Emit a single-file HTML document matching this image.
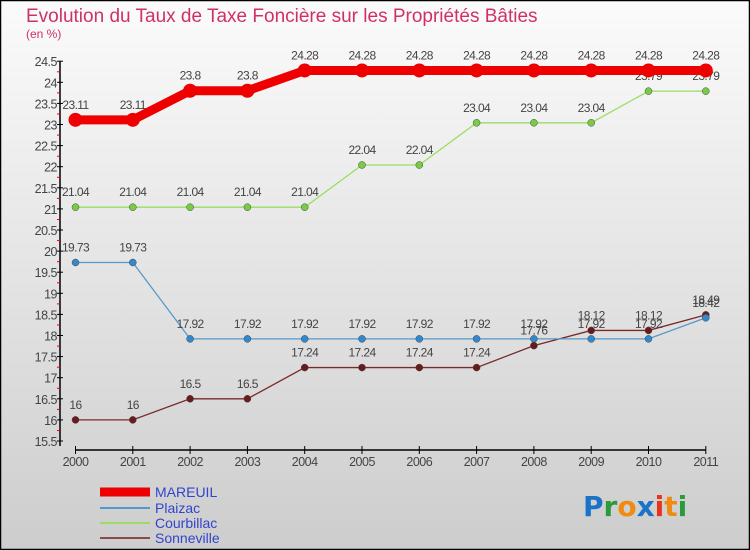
<!DOCTYPE html>
<html><head><meta charset="utf-8"><style>
body{margin:0}
#c{width:750px;height:550px;position:relative;overflow:hidden;font-family:"Liberation Sans",sans-serif}
</style></head><body>
<div id="c">
<svg width="750" height="550" xmlns="http://www.w3.org/2000/svg" id="svg">
<defs><linearGradient id="bg" x1="0" y1="0" x2="0" y2="1"><stop offset="0" stop-color="#fbfbfb"/><stop offset="1" stop-color="#cdcdcd"/></linearGradient></defs>
<rect x="0.5" y="0.5" width="749" height="549" fill="url(#bg)" stroke="#000" stroke-width="1.5"/>
<text x="26" y="22" font-size="19" fill="#d0306a">Evolution du Taux de Taxe Foncière sur les Propriétés Bâties</text>
<text x="26" y="38" font-size="12" fill="#d0306a">(en %)</text>
<g id="axes"></g><g id="series"></g><g id="legend"></g>
<text x="583" y="516" font-size="28" font-family="'DejaVu Sans',sans-serif" font-weight="bold"><tspan fill="#1a73c8">P</tspan><tspan fill="#2a9a3a">r</tspan><tspan fill="#f08a10">o</tspan><tspan fill="#1a73c8">x</tspan><tspan fill="#e8321a">i</tspan><tspan fill="#f08a10">t</tspan><tspan fill="#2a9a3a">i</tspan></text>
</svg>
</div>
<script>
const years=[2000,2001,2002,2003,2004,2005,2006,2007,2008,2009,2010,2011];
const mareuil=[23.11,23.11,23.8,23.8,24.28,24.28,24.28,24.28,24.28,24.28,24.28,24.28];
const plaizac=[19.73,19.73,17.92,17.92,17.92,17.92,17.92,17.92,17.92,17.92,17.92,18.42];
const courbillac=[21.04,21.04,21.04,21.04,21.04,22.04,22.04,23.04,23.04,23.04,23.79,23.79];
const sonneville=[16,16,16.5,16.5,17.24,17.24,17.24,17.24,17.76,18.12,18.12,18.49];
const yTicks=[15.5,16,16.5,17,17.5,18,18.5,19,19.5,20,20.5,21,21.5,22,22.5,23,23.5,24,24.5];
const NS="http://www.w3.org/2000/svg";
function X(i){return 75.5+i*57.3;}
function Y(v){return 441-(v-15.5)*42.2;}
function mk(t,a,p){const e=document.createElementNS(NS,t);for(const k in a)e.setAttribute(k,a[k]);if(p)p.appendChild(e);return e;}
const ax=document.getElementById('axes'),sg=document.getElementById('series'),lg=document.getElementById('legend');
let l=mk('line',{x1:60,y1:Y(24.5),x2:60,y2:Y(15.5)+5,stroke:'#000','stroke-width':1.5},ax);


l=mk('line',{x1:X(0),y1:450,x2:X(11),y2:450,stroke:'#000','stroke-width':1.5},ax);


yTicks.forEach(v=>{
 mk('line',{x1:57,x2:63,y1:Y(v),y2:Y(v),stroke:'#000'},ax);
 if(v<24.5) mk('line',{x1:57,x2:60,y1:Y(v)-10.5,y2:Y(v)-10.5,stroke:'#e00'},ax);
 const t=mk('text',{x:57,y:Y(v)+5,'text-anchor':'end','font-size':12.5,fill:'#444','letter-spacing':'-0.5'},ax);
 t.textContent=v;
 
 
});
years.forEach((yr,i)=>{
 mk('line',{x1:X(i),x2:X(i),y1:446,y2:454,stroke:'#000'},ax);
 const t=mk('text',{x:X(i),y:466,'text-anchor':'middle','font-size':12.5,fill:'#444','letter-spacing':'-0.5'},ax);
 t.textContent=yr;
 
 
});
const series=[
 {name:'Sonneville',d:sonneville,c:'#7a2a2a',f:'#6a1a1a',w:1.3,r:3.5},
 {name:'Courbillac',d:courbillac,c:'#99dd66',f:'#77cc44',w:1.3,r:3.5},
 {name:'Plaizac',d:plaizac,c:'#5599cc',f:'#3388cc',w:1.3,r:3.5},
 {name:'MAREUIL',d:mareuil,c:'#ee0000',f:'#ee0000',w:9,r:7}
];
series.forEach(s=>{
 const g=mk('g',{},sg);
 
 
 mk('polyline',{points:s.d.map((v,i)=>X(i)+','+Y(v)).join(' '),fill:'none',stroke:s.c,'stroke-width':s.w},g);
 s.d.forEach((v,i)=>{
  const p=mk('circle',{cx:X(i),cy:Y(v),r:s.r,fill:s.f,stroke:s.w>2?'none':'#444','stroke-width':0.5},g);
  
  
  const t=mk('text',{x:X(i),y:Y(v)-11,'text-anchor':'middle','font-size':12,fill:'#444','letter-spacing':'-0.6'},g);
  t.textContent=v;
  
  
 });
});
const leg=[['MAREUIL','#ee0000',9,492],['Plaizac','#5599cc',2,508],['Courbillac','#99dd66',2,523],['Sonneville','#8a4a4a',2,538]];
leg.forEach(e=>{
 const g=mk('g',{},lg);
 
 
 mk('line',{x1:100,x2:150,y1:e[3],y2:e[3],stroke:e[1],'stroke-width':e[2]},g);
 const t=mk('text',{x:155,y:e[3]+5,'font-size':14,fill:'#3344cc'},g);
 t.textContent=e[0];
});
</script>
</body></html>
